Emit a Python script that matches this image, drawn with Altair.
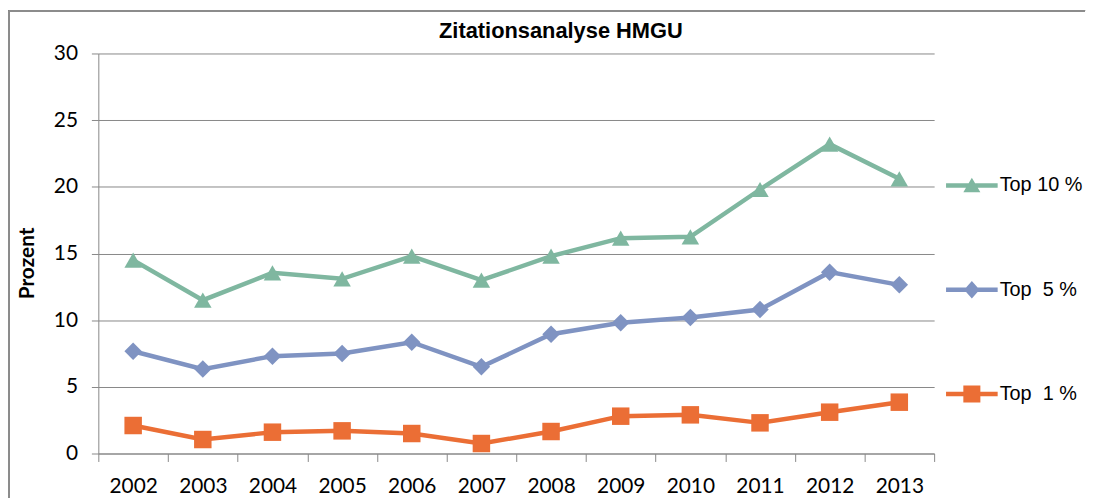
import altair as alt
import pandas as pd

years = [str(y) for y in range(2002, 2014)]
top10 = [14.5, 11.5, 13.55, 13.1, 14.8, 13.0, 14.8, 16.15, 16.25, 19.8, 23.2, 20.6]
top5 = [7.67, 6.33, 7.3, 7.5, 8.35, 6.5, 8.95, 9.8, 10.2, 10.8, 13.6, 12.65]
top1 = [2.1, 1.05, 1.6, 1.7, 1.5, 0.75, 1.65, 2.8, 2.9, 2.3, 3.1, 3.85]
series = ["Top 10 %", "Top \u00a05 %", "Top \u00a01 %"]
colors = ["#7fb7a0", "#7f93c2", "#eb6e35"]
shapes = ["triangle-up", "diamond", "square"]

rows = []
for name, vals in zip(series, [top10, top5, top1]):
    for y, v in zip(years, vals):
        rows.append({"Jahr": y, "Serie": name, "Leg": name, "Wert": v})
df = pd.DataFrame(rows)

W, H = 842, 403
PL, PT, PR, PB = 91, 44, 154, 44

bar = "M-1,-0.085L1,-0.085L1,0.085L-1,0.085Z "
p_tri = bar + "M0,-0.3L0.33,0.26L-0.33,0.26Z"
p_dia = bar + "M0,-0.34L0.3,0L0,0.34L-0.3,0Z"
p_sq = bar + "M-0.33,-0.33L0.33,-0.33L0.33,0.33L-0.33,0.33Z"
legend_shapes = [p_tri, p_dia, p_sq]

x = alt.X(
    "Jahr:N",
    sort=years,
    title=None,
    scale=alt.Scale(paddingInner=0, paddingOuter=0),
    axis=alt.Axis(
        labelAngle=0,
        tickBand="extent",
        grid=False,
        domainColor="#888888",
        tickColor="#888888",
        tickSize=8,
        labelFont="Lato",
        labelFontSize=21,
        labelColor="#000000",
        labelPadding=14,
    ),
)
y = alt.Y(
    "Wert:Q",
    title="Prozent",
    scale=alt.Scale(domain=[0, 30], nice=False),
    axis=alt.Axis(
        values=[0, 5, 10, 15, 20, 25, 30],
        grid=True,
        gridColor="#888888",
        gridWidth=1,
        domainColor="#888888",
        tickColor="#888888",
        tickSize=7,
        labelFont="Lato",
        labelFontSize=21,
        labelColor="#000000",
        labelPadding=14,
        titleFont="Lato",
        titleFontSize=21,
        titleFontWeight="bold",
        titleColor="#000000",
        titlePadding=16,
        titleY=211,
    ),
)
color = alt.Color("Serie:N", scale=alt.Scale(domain=series, range=colors), legend=None)

lines = alt.Chart(df).mark_line(strokeWidth=4.5).encode(x=x, y=y, color=color)
points = alt.Chart(df).mark_point(filled=True, size=310, opacity=1).encode(
    x=x,
    y=y,
    color=color,
    shape=alt.Shape("Serie:N", scale=alt.Scale(domain=series, range=shapes), legend=None),
)

leg = alt.Legend(
    title=None,
    orient="none",
    legendX=854,
    legendY=107,
    direction="vertical",
    symbolSize=2704,
    rowPadding=69,
    labelFont="Liberation Sans",
    labelFontSize=20,
    labelColor="#000000",
    labelOffset=2,
    labelLimit=300,
    padding=0,
    symbolStrokeWidth=0,
    symbolOpacity=1,
)
legend_layer = (
    alt.Chart(df)
    .transform_filter("false")
    .mark_point(filled=True, size=300)
    .encode(
        x=x,
        y=y,
        color=alt.Color("Leg:N", scale=alt.Scale(domain=series, range=colors), legend=leg),
        shape=alt.Shape("Leg:N", scale=alt.Scale(domain=series, range=legend_shapes), legend=leg),
    )
)

border_left = alt.Chart(df).mark_rule(color="#8c8c8c", strokeWidth=1.5).encode(
    x=alt.value(-PL + 1), y=alt.value(-PT + 1), y2=alt.value(H + PB)
)
border_top = alt.Chart(df).mark_rule(color="#8c8c8c", strokeWidth=1.5).encode(
    x=alt.value(-PL + 1), x2=alt.value(W + PR - 2), y=alt.value(-PT + 1)
)

chart = (
    alt.layer(border_left, border_top, lines, points, legend_layer)
    .resolve_scale(color="independent", shape="independent")
    .properties(
        width=W,
        height=H,
        autosize=alt.AutoSizeParams(type="none"),
        padding={"left": PL, "top": PT, "right": PR, "bottom": PB},
        title=alt.TitleParams(
            "Zitationsanalyse HMGU",
            font="Liberation Sans",
            fontSize=22,
            fontWeight="bold",
            color="#000000",
            anchor="middle",
            dx=45,
            offset=-33,
        ),
    )
    .configure_view(stroke=None)
)

chart.save("out.html", embed_options={"renderer": "svg", "actions": False})
